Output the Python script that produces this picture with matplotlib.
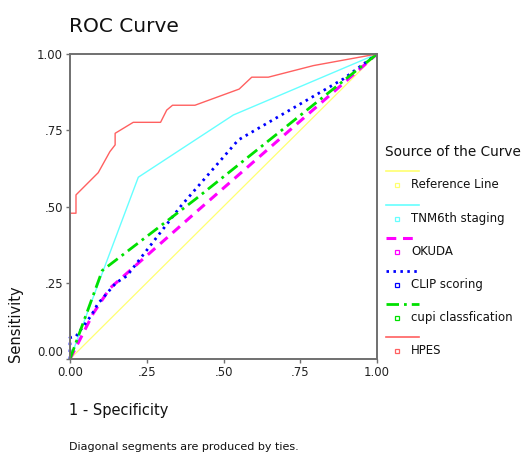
import matplotlib
matplotlib.use('Agg')
import matplotlib.pyplot as plt
from matplotlib.lines import Line2D

# ROC curve points (1 - specificity, sensitivity)
ref_x = [0.0, 1.0]
ref_y = [0.0, 1.0]

tnm_x = [0.0, 0.2225, 0.532, 1.0]
tnm_y = [0.0, 0.596, 0.800, 1.0]

okuda_x = [0.0, 0.076, 0.13, 0.42, 1.0]
okuda_y = [0.0, 0.15, 0.232, 0.49, 1.0]

clip_x = [0.0, 0.0, 0.02, 0.07, 0.09, 0.12, 0.15, 0.185, 0.36, 0.548, 0.89, 1.0]
clip_y = [0.0, 0.07, 0.075, 0.144, 0.18, 0.215, 0.25, 0.272, 0.50, 0.718, 0.918, 1.0]

cupi_x = [0.0, 0.105, 0.41, 1.0]
cupi_y = [0.0, 0.29, 0.525, 1.0]

hpes_x = [0.0, 0.0, 0.0195, 0.0195, 0.092, 0.13, 0.147, 0.147, 0.206, 0.295,
          0.315, 0.334, 0.407, 0.551, 0.592, 0.646, 0.793, 0.88, 1.0]
hpes_y = [0.0, 0.478, 0.478, 0.538, 0.611, 0.68, 0.702, 0.74, 0.776, 0.776,
          0.816, 0.832, 0.832, 0.885, 0.924, 0.924, 0.962, 0.978, 1.0]

ticks = [0.0, 0.25, 0.5, 0.75, 1.0]
tick_labels = ['0.00', '.25', '.50', '.75', '1.00']

series_names = ['Reference Line', 'TNM6th staging', 'OKUDA', 'CLIP scoring',
                'cupi classfication', 'HPES']

W, H = 531, 454
fig = plt.figure(figsize=(W / 100, H / 100), dpi=100)


def fx(px):
    return px / W


def fy(py):
    return 1 - py / H


ax = fig.add_axes([fx(70), fy(359), (377 - 70) / W, (359 - 54) / H])

styles = [
    dict(color='#FFFF70', lw=0.9, ls='-'),
    dict(color='#66FFFF', lw=1.0, ls='-'),
    dict(color='#FF00FF', lw=2.2, ls=(0, (3.2, 2.2))),
    dict(color='#0000FF', lw=2.0, ls=(0, (0.9, 1.6))),
    dict(color='#00E000', lw=2.0, ls=(0, (4.5, 1.8, 1.0, 1.8))),
    dict(color='#FF6060', lw=1.0, ls='-'),
]
data = [(ref_x, ref_y), (tnm_x, tnm_y), (okuda_x, okuda_y),
        (clip_x, clip_y), (cupi_x, cupi_y), (hpes_x, hpes_y)]

for (xs, ys), st in zip(data, styles):
    ax.plot(xs, ys, color=st['color'], lw=st['lw'], linestyle=st['ls'],
            clip_on=False, zorder=2)

ax.set_xlim(0, 1)
ax.set_ylim(0, 1)
for sp in ax.spines.values():
    sp.set_color('#707070')
    sp.set_linewidth(1.4)
    sp.set_zorder(5)
ax.set_xticks(ticks)
ax.set_xticklabels(tick_labels)
ax.set_yticks(ticks)
ax.set_yticklabels(tick_labels)
ax.tick_params(direction='out', length=3, width=1, color='#707070',
               labelsize=8.5, labelcolor='#222222', pad=2)
ax.get_yticklabels()[0].set_verticalalignment('bottom')

fig.text(fx(69), fy(32), 'ROC Curve', fontsize=14.5, color='#111111',
         ha='left', va='baseline')
fig.text(fx(69), fy(411), '1 - Specificity', fontsize=10.5, color='#111111',
         ha='left', va='center')
fig.text(fx(16), fy(324), 'Sensitivity', fontsize=10.5, color='#111111',
         rotation=90, ha='center', va='center')
fig.text(fx(69), fy(447), 'Diagonal segments are produced by ties.',
         fontsize=8, color='#111111', ha='left', va='center')

# legend drawn by hand, SPSS style
fig.text(fx(385), fy(152), 'Source of the Curve', fontsize=9.8,
         color='#111111', ha='left', va='center')
line_y = [171, 204.5, 237.5, 270.5, 304, 337]
for name, st, ly in zip(series_names, styles, line_y):
    fig.add_artist(Line2D([fx(386), fx(419)], [fy(ly), fy(ly)],
                          color=st['color'], lw=st['lw'] if st['lw'] > 1.5 else 1.2,
                          linestyle=st['ls']))
    fig.add_artist(Line2D([fx(397)], [fy(ly + 14)], marker='s', ms=3.5,
                          mfc='white', mec=st['color'], mew=0.9, ls='none'))
    fig.text(fx(411), fy(ly + 14), name, fontsize=8.5, color='#111111',
             ha='left', va='center')

fig.savefig('out.png', dpi=100)
